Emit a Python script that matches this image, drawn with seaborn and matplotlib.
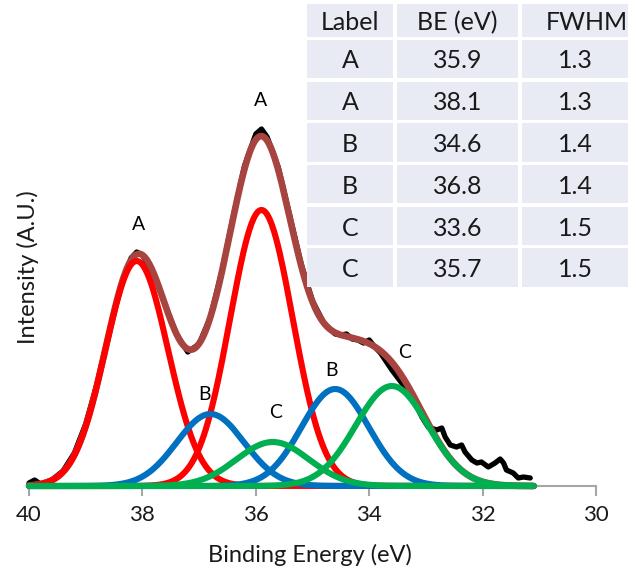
import numpy as np
import pandas as pd
import matplotlib
matplotlib.use("Agg")
import matplotlib.pyplot as plt
import seaborn as sns
from matplotlib.patches import Rectangle

# ---------------- data ----------------
peak_labels = ["A", "A", "B", "B", "C", "C"]
peak_be = [35.9, 38.1, 34.6, 36.8, 33.6, 35.7]
peak_fwhm = [1.3, 1.3, 1.4, 1.4, 1.5, 1.5]
peak_height = [276, 225, 97, 72, 100, 44]
table_header = ["Label", "BE (eV)", "FWHM"]

data_be = [40.0, 39.9, 39.8, 39.6, 39.4, 39.2, 39.0, 38.8, 38.6, 38.4, 38.2, 38.1,
           38.0, 37.8, 37.6, 37.4, 37.2, 37.0, 36.8, 36.6, 36.4, 36.2, 36.0, 35.9,
           35.8, 35.6, 35.4, 35.2, 35.0, 34.8, 34.6, 34.5, 34.4, 34.3, 34.2, 34.1,
           34.0, 33.9, 33.8, 33.6, 33.4, 33.2, 33.07, 32.96, 32.81, 32.72, 32.66,
           32.57, 32.46, 32.37, 32.31, 32.19, 32.10, 32.02, 31.90, 31.78, 31.69,
           31.63, 31.58, 31.46, 31.37, 31.28, 31.16]
data_int = [3, 6, 2, 6, 15, 33, 62, 102, 150, 196, 228, 234,
            231, 212, 181, 152, 134, 142, 169, 214, 269, 320, 352, 357,
            349, 318, 270, 222, 185, 163, 152, 151, 152, 147, 146, 143,
            146, 139, 133, 116, 101, 84, 69, 59, 56, 58, 49,
            41, 39, 41, 34, 26, 23, 24, 19, 23, 27,
            23, 16, 13, 8, 9, 8]

# annotation positions (BE, intensity)
annot_text = ["A", "A", "B", "B", "C", "C"]
annot_be = [38.06, 35.91, 36.91, 34.66, 35.66, 33.37]
annot_int = [261, 386, 91, 116, 74, 133]

xticks = [40, 38, 36, 34, 32, 30]

# ---------------- style ----------------
sns.set_theme(style="white")
plt.rcParams["font.family"] = ["Lato", "DejaVu Sans"]

W, H = 636, 568
fig = plt.figure(figsize=(W / 100, H / 100), dpi=100)
ax = fig.add_axes([29 / W, (H - 486) / H, (596 - 29) / W, 486 / H])

colors = {"A": "#FF0000", "B": "#0070C0", "C": "#00B050"}

energy = np.linspace(40, 31.1, 500)
comps = []
for lab, c, f, h in zip(peak_labels, peak_be, peak_fwhm, peak_height):
    s = f / (2 * np.sqrt(2 * np.log(2)))
    comps.append(h * np.exp(-0.5 * ((energy - c) / s) ** 2))
envelope = np.sum(comps, axis=0)

df_data = pd.DataFrame({"be": data_be, "int": data_int})
sns.lineplot(data=df_data, x="be", y="int", color="black", lw=3.8, ax=ax,
             zorder=2, clip_on=False)
sns.lineplot(x=energy, y=envelope, color="#A8443F", lw=4.8, ax=ax, zorder=3,
             clip_on=False)
order = {"A": 4, "B": 5, "C": 6}
for lab, comp in zip(peak_labels, comps):
    sns.lineplot(x=energy, y=comp, color=colors[lab], lw=4.4, ax=ax,
                 zorder=order[lab], clip_on=False)
for ln in ax.lines:
    ln.set_solid_capstyle("round")
    ln.set_solid_joinstyle("round")

for t, x, y in zip(annot_text, annot_be, annot_int):
    ax.text(x, y, t, ha="center", va="center", fontsize=14, color="black")

ax.set_xlim(40, 30)
ax.set_ylim(0, 486)
ax.set_xticks(xticks)
ax.set_xticklabels([str(t) for t in xticks])
ax.set_yticks([])
ax.set_xlabel("")
ax.set_ylabel("")
for sp in ["left", "top", "right"]:
    ax.spines[sp].set_visible(False)
ax.spines["bottom"].set_color("#A6A6A6")
ax.spines["bottom"].set_linewidth(1.5)
ax.tick_params(axis="x", direction="out", length=7, width=1.5, color="#A6A6A6",
               labelsize=16, pad=7, bottom=True, labelcolor="#1a1a1a")
ax.patch.set_alpha(0)

fig.text(310 / W, (H - 562) / H, "Binding Energy (eV)", ha="center", va="baseline",
         fontsize=17, color="#1a1a1a")
fig.text(28 / W, (H - 267) / H, "Intensity (A.U.)", ha="center", va="center",
         rotation=90, fontsize=17, color="#1a1a1a")

# ---------------- table ----------------
tab = fig.add_axes([0, 0, 1, 1])
tab.set_xlim(0, W)
tab.set_ylim(H, 0)
tab.axis("off")
col_x = [(307, 393), (397, 518), (522, 628)]
row_y = [(4, 37), (40, 78), (82, 120), (123, 162), (165, 203), (207, 245), (248, 287)]
cell_color = "#E8EBF4"
rows = [table_header] + [[l, f"{b:.1f}", f"{w:.1f}"]
                         for l, b, w in zip(peak_labels, peak_be, peak_fwhm)]
for ri, (y0, y1) in enumerate(row_y):
    for ci, (x0, x1) in enumerate(col_x):
        tab.add_patch(Rectangle((x0, y0), x1 - x0, y1 - y0, facecolor=cell_color,
                                edgecolor="none"))
        cx = (x0 + x1) / 2
        if ri == 0 and ci == 2:
            cx = 587
        tab.text(cx, (y0 + y1) / 2 + 2, rows[ri][ci], ha="center", va="center",
                 fontsize=18, color="#1a1a1a")

fig.savefig("out.png", dpi=100)
